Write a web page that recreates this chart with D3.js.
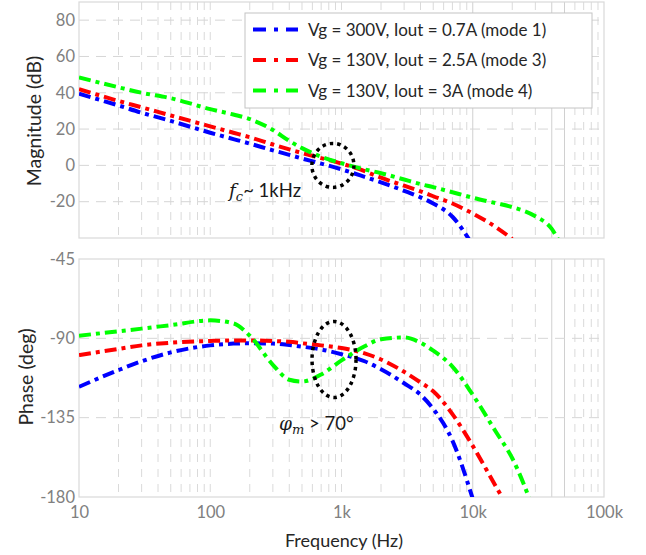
<!DOCTYPE html>
<html>
<head>
<meta charset="utf-8">
<script src="https://cdn.jsdelivr.net/npm/d3@7"></script>
<style>
  body { margin: 0; background: #fff; }
  svg { display: block; }
  text { font-family: Lato, "Open Sans", sans-serif; }
</style>
</head>
<body>
<svg id="chart" width="646" height="555"></svg>
<script>
// Loop-gain Bode plot: magnitude and phase for three operating modes.
const freqs = [10, 20, 30, 50, 100, 150, 200, 300, 400, 500, 700, 1000, 1500, 2000,
               3000, 4000, 5000, 7000, 10000, 15000, 20000, 30000, 40000, 50000];

const magMode1 = [39.5, 33, 29, 24.5, 18, 14.5, 12, 8.3, 5.8, 3.8, 1, -2.2, -6.3, -9.3,
                  -14, -17.6, -21, -28.3, -44, null, null, null, null, null];
const magMode3 = [42, 35.5, 32, 27.5, 21.5, 18, 15.5, 11.5, 8.8, 6.8, 4, 1, -3.2, -6.8,
                  -11.2, -14.3, -17, -21, -26.5, -34, -40.5, null, null, null];
const magMode4 = [48.5, 43, 40, 37, 31, 28, 25.5, 19.5, 13.5, 9.5, 4.8, 1.2, -2.2, -4.3,
                  -7.8, -10.3, -12, -14.8, -17.8, -20.8, -23, -28, -35, -48];

const phaseMode1 = [-117.5, -108, -103, -98, -94, -93, -92.8, -93, -93.8, -94.7, -96.3, -99, -103, -107.5,
                    -115.5, -122, -130, -148, -181, null, null, null, null, null];
const phaseMode3 = [-99.5, -96, -94, -92.5, -91.5, -91.2, -91.2, -91.5, -92, -92.8, -94, -95.5, -98.5, -102,
                    -109, -115, -120, -133, -151, -174, -190, null, null, null];
const phaseMode4 = [-88.5, -86, -84.5, -82.5, -79.8, -81.5, -88.5, -105, -113.5, -114.5, -110.5, -102.5, -94.5, -90.5,
                    -89.5, -92.5, -97, -106, -122, -143, -158, -190, null, null];

const seriesLabels = [
  "Vg = 300V, Iout = 0.7A (mode 1)",
  "Vg = 130V, Iout = 2.5A (mode 3)",
  "Vg = 130V, Iout = 3A (mode 4)"
];
const seriesColors = ["#0000ff", "#ff0000", "#00ff00"];

const magTicks = [80, 60, 40, 20, 0, -20];
const phaseTicks = [-45, -90, -135, -180];
const freqTicks = [10, 100, 1000, 10000, 100000];
const freqTickLabels = ["10", "100", "1k", "10k", "100k"];
const solidGridFreqs = [10000, 40000, 50000];

// Crossover and phase-margin call-outs
const fcMark = { f: 860, value: 0 };
const pmMark = { f: 877, value: -102 };

const svg = d3.select("#chart");

const x = d3.scaleLog().domain([10, 100000]).range([79, 604]);
const yMag = d3.scaleLinear().domain([-40, 90]).range([238, 2]);
const yPh = d3.scaleLinear().domain([-180, -45]).range([497, 259]);

// Minor/major vertical grid positions for every decade step
const gridFreqs = [];
for (let d = 10; d < 100000; d *= 10) {
  for (let k = 1; k <= 9; k++) if (!(d === 10 && k === 1)) gridFreqs.push(d * k);
}

const panels = [
  { y: yMag, ticks: magTicks, series: [magMode1, magMode3, magMode4], id: "mag" },
  { y: yPh, ticks: phaseTicks, series: [phaseMode1, phaseMode3, phaseMode4], id: "ph" }
];

const defs = svg.append("defs");

panels.forEach(p => {
  const [y0, y1] = p.y.range();
  const top = Math.min(y0, y1), bottom = Math.max(y0, y1);
  const left = x.range()[0], right = x.range()[1];

  defs.append("clipPath").attr("id", "clip-" + p.id)
    .append("rect").attr("x", left).attr("y", top)
    .attr("width", right - left).attr("height", bottom - top);

  const g = svg.append("g");

  // vertical grid
  g.selectAll(".vgrid").data(gridFreqs).join("line")
    .attr("x1", d => x(d)).attr("x2", d => x(d))
    .attr("y1", top).attr("y2", bottom)
    .attr("stroke", d => solidGridFreqs.includes(d) ? "#d0d0d0" : "#dadada")
    .attr("stroke-width", 1)
    .attr("stroke-dasharray", d => solidGridFreqs.includes(d) ? null : "8,7");

  // horizontal grid
  g.selectAll(".hgrid").data(p.ticks.filter(t => p.y(t) > top + 1 && p.y(t) < bottom - 1)).join("line")
    .attr("x1", left).attr("x2", right)
    .attr("y1", d => p.y(d)).attr("y2", d => p.y(d))
    .attr("stroke", "#d6d6d6").attr("stroke-width", 1)
    .attr("stroke-dasharray", "10,7");

  // frame
  g.append("rect").attr("x", left).attr("y", top)
    .attr("width", right - left).attr("height", bottom - top)
    .attr("fill", "none").attr("stroke", "#d9d9d9").attr("stroke-width", 1.2);

  // left axis labels (plain hyphen for negatives)
  const ax = svg.append("g").attr("transform", `translate(${left},0)`)
    .call(d3.axisLeft(p.y).tickValues(p.ticks).tickFormat(d => String(d)).tickSize(0).tickPadding(4));
  ax.select(".domain").remove();
  ax.selectAll("text").attr("font-size", 16.5).attr("fill", "#808080")
    .style("font-family", "Lato, 'Open Sans', sans-serif");

  // curves
  const line = d3.line()
    .defined(d => d[1] !== null)
    .x(d => x(d[0])).y(d => p.y(d[1]))
    .curve(d3.curveMonotoneX);

  const cg = svg.append("g").attr("clip-path", `url(#clip-${p.id})`);
  p.series.forEach((vals, i) => {
    cg.append("path")
      .datum(freqs.map((f, j) => [f, vals[j]]))
      .attr("d", line)
      .attr("fill", "none")
      .attr("stroke", seriesColors[i])
      .attr("stroke-width", 4)
      .attr("stroke-dasharray", "12,5,4,5");
  });
});

// frequency axis
const xa = svg.append("g").attr("transform", "translate(0,497)")
  .call(d3.axisBottom(x).tickValues(freqTicks).tickFormat((d, i) => freqTickLabels[i])
    .tickSize(0).tickPadding(9));
xa.select(".domain").remove();
xa.selectAll("text").attr("font-size", 16.5).attr("fill", "#808080")
  .style("font-family", "Lato, 'Open Sans', sans-serif");

// axis titles
svg.append("text").attr("transform", "translate(41,121) rotate(-90)")
  .attr("text-anchor", "middle").attr("font-size", 19.5).attr("fill", "#262626")
  .text("Magnitude (dB)");
svg.append("text").attr("transform", "translate(33,377) rotate(-90)")
  .attr("text-anchor", "middle").attr("font-size", 19.5).attr("fill", "#262626")
  .text("Phase (deg)");
svg.append("text").attr("x", 344).attr("y", 547)
  .attr("text-anchor", "middle").attr("font-size", 18).attr("fill", "#262626")
  .text("Frequency (Hz)");

// legend
const lg = svg.append("g");
lg.append("rect").attr("x", 245).attr("y", 13).attr("width", 347).attr("height", 95)
  .attr("fill", "#fff").attr("stroke", "#c4c4c4").attr("stroke-width", 1);
seriesLabels.forEach((lab, i) => {
  const cy = 29.5 + i * 30.5;
  lg.append("line").attr("x1", 253).attr("x2", 298).attr("y1", cy).attr("y2", cy)
    .attr("stroke", seriesColors[i]).attr("stroke-width", 4)
    .attr("stroke-dasharray", "13,8,4,8");
  lg.append("text").attr("x", 308).attr("y", cy).attr("dy", "0.36em")
    .attr("font-size", 17).attr("fill", "#262626").text(lab);
});

// call-outs
const dotted = (cx, cy, rx, ry) => svg.append("ellipse")
  .attr("cx", cx).attr("cy", cy).attr("rx", rx).attr("ry", ry)
  .attr("fill", "none").attr("stroke", "#000").attr("stroke-width", 3.5)
  .attr("stroke-dasharray", "3.5,4");
dotted(x(fcMark.f), yMag(fcMark.value), 21, 22);
dotted(x(pmMark.f), yPh(pmMark.value), 22, 38);

const serif = "'DejaVu Serif', 'Liberation Serif', serif";
const t1 = svg.append("text").attr("x", 229).attr("y", 197).attr("font-size", 18.5).attr("fill", "#1a1a1a");
t1.append("tspan").style("font-family", serif).attr("font-style", "italic").text("f");
t1.append("tspan").style("font-family", serif).attr("font-style", "italic")
  .attr("font-size", 13).attr("dy", 4).text("c");
t1.append("tspan").attr("dy", -4).text("~ 1kHz");

const t2 = svg.append("text").attr("x", 279).attr("y", 430).attr("font-size", 18.5).attr("fill", "#1a1a1a");
t2.append("tspan").style("font-family", serif).attr("font-style", "italic").text("φ");
t2.append("tspan").style("font-family", serif).attr("font-style", "italic")
  .attr("font-size", 13).attr("dy", 4).text("m");
t2.append("tspan").attr("dy", -4).text(" > 70°");
</script>
</body>
</html>
